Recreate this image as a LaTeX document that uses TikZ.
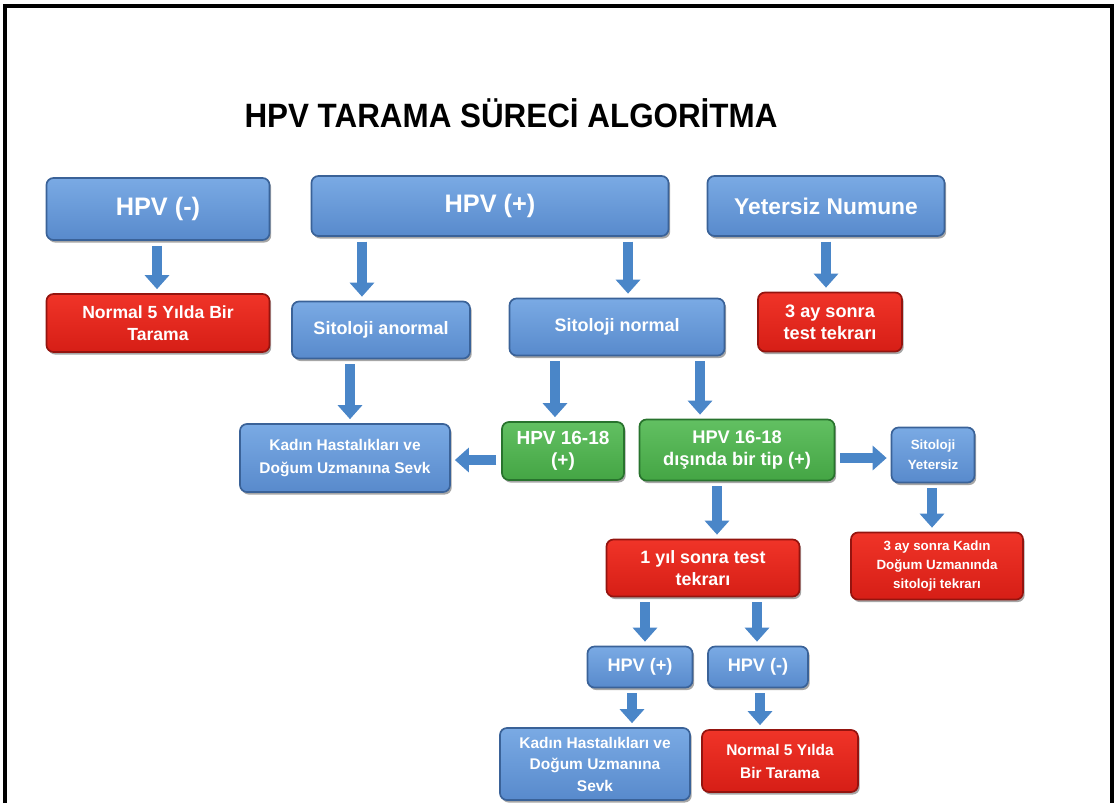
\documentclass[tikz,border=0pt]{standalone}
\usepackage{fontspec}
\setsansfont{Liberation Sans}
\newfontfamily\titlefont[FakeStretch=0.93]{Liberation Sans}
\usepackage{tikz}
\usetikzlibrary{arrows.meta,shadows}

\definecolor{bluetop}{RGB}{122,170,228}
\definecolor{bluebot}{RGB}{88,138,204}
\definecolor{blueedge}{RGB}{58,98,152}
\definecolor{redtop}{RGB}{240,52,40}
\definecolor{redbot}{RGB}{214,30,22}
\definecolor{rededge}{RGB}{148,20,15}
\definecolor{greentop}{RGB}{98,192,98}
\definecolor{greenbot}{RGB}{68,165,68}
\definecolor{greenedge}{RGB}{40,115,45}
\definecolor{arrowblue}{RGB}{74,134,200}

\tikzset{
	box/.style={rounded corners=5pt, line width=1.2pt, inner sep=1pt, align=center, text=white,
		drop shadow={shadow xshift=1.2pt, shadow yshift=-1.8pt, fill=black, opacity=0.35}},
	bluebox/.style={box, top color=bluetop, bottom color=bluebot, draw=blueedge},
	redbox/.style={box, top color=redtop, bottom color=redbot, draw=rededge},
	greenbox/.style={box, top color=greentop, bottom color=greenbot, draw=greenedge},
	txt/.style 2 args={font=\sffamily\bfseries\fontsize{#1}{#2}\selectfont},
	arr/.style={line width=0.24cm, draw=arrowblue, -{Triangle[width=0.6cm,length=0.35cm]},
		shorten <=0.12cm, shorten >=0.1cm}
}

\begin{document}
\begin{tikzpicture}[x=0.025cm, y=-0.025cm]
		
		\useasboundingbox (0,0) rectangle (1115,803);
		\draw[line width=2.2pt] (5,803) -- (5,6) -- (1112,6) -- (1112,803);
		
		\node[font=\titlefont\bfseries\fontsize{24}{28}\selectfont] (title) at (511,113) {HPV TARAMA SÜRECİ ALGORİTMA};
		
		\node[bluebox, minimum width=5.575cm, minimum height=1.55cm, txt={18}{21}] (hpvneg) at (158,209) {HPV (-)};
		\node[bluebox, minimum width=8.925cm, minimum height=1.5cm, txt={18}{21}] (hpvpos) at (490,206) {HPV (+)};
		\node[bluebox, minimum width=5.925cm, minimum height=1.5cm, txt={16.2}{19}] (yetersiz) at (826,206) {Yetersiz Numune};
		
		\node[redbox, minimum width=5.575cm, minimum height=1.45cm, txt={12.5}{15.6}] (normal) at (158,323) {Normal 5 Yılda Bir\\Tarama};
		\node[bluebox, minimum width=4.45cm, minimum height=1.425cm, txt={12.8}{15}] (sitanormal) at (381,330) {Sitoloji anormal};
		\node[bluebox, minimum width=5.375cm, minimum height=1.425cm, txt={12.8}{15}] (sitnormal) at (617,327) {Sitoloji normal};
		\node[redbox, minimum width=3.6cm, minimum height=1.475cm, txt={12.9}{16}] (ucay) at (830,322) {3 ay sonra\\test tekrarı};
		
		\node[bluebox, minimum width=5.25cm, minimum height=1.7cm, txt={11}{16}] (sevk) at (345,458) {Kadın Hastalıkları ve\\Doğum Uzmanına Sevk};
		\node[greenbox, minimum width=3.05cm, minimum height=1.45cm, txt={13.5}{16}] (tip1618) at (563,451) {HPV 16-18\\(+)};
		\node[greenbox, minimum width=4.875cm, minimum height=1.525cm, txt={13}{16}] (digertip) at (737,450) {HPV 16-18\\dışında bir tip (+)};
		\node[bluebox, minimum width=2.075cm, minimum height=1.375cm, txt={9.5}{14}] (sityetersiz) at (933,455) {Sitoloji\\Yetersiz};
		
		\node[redbox, minimum width=4.825cm, minimum height=1.425cm, txt={12.7}{15.6}] (biryil) at (703,568) {1 yıl sonra test\\tekrarı};
		\node[redbox, minimum width=4.3cm, minimum height=1.675cm, txt={9.5}{13.2}] (kadintekrar) at (937,566) {3 ay sonra Kadın\\Doğum Uzmanında\\sitoloji tekrarı};
		
		\node[bluebox, minimum width=2.625cm, minimum height=1.025cm, txt={12.9}{15}] (hpvpos2) at (640,667) {HPV (+)};
		\node[bluebox, minimum width=2.5cm, minimum height=1.025cm, txt={12.9}{15}] (hpvneg2) at (758,667) {HPV (-)};
		
		\node[bluebox, minimum width=4.75cm, minimum height=1.8cm, txt={11}{15.3}] (sevk2) at (595,764) {Kadın Hastalıkları ve\\Doğum Uzmanına\\Sevk};
		\node[redbox, minimum width=3.9cm, minimum height=1.55cm, txt={11}{16.4}] (normal2) at (780,761) {Normal 5 Yılda\\Bir Tarama};
		
		\coordinate (o1) at ([xshift=-0.025cm]hpvneg.south);
		\coordinate (o2) at ([xshift=-3.2cm]hpvpos.south);
		\coordinate (o3) at ([xshift=3.45cm]hpvpos.south);
		\coordinate (o4) at (yetersiz.south);
		\draw[arr] (o1) -- (normal.north -| o1);
		\draw[arr] (o2) -- (sitanormal.north -| o2);
		\draw[arr] (o3) -- (sitnormal.north -| o3);
		\draw[arr] (o4) -- (ucay.north -| o4);
		
		\coordinate (o5) at ([xshift=-0.775cm]sitanormal.south);
		\coordinate (o6) at ([xshift=-1.55cm]sitnormal.south);
		\coordinate (o7) at ([xshift=2.075cm]sitnormal.south);
		\draw[arr] (o5) -- (sevk.north -| o5);
		\draw[arr] (o6) -- (tip1618.north -| o6);
		\draw[arr] (o7) -- (digertip.north -| o7);
		
		\coordinate (tipyan) at ([yshift=-0.225cm]tip1618.west);
		\draw[arr] (tipyan) -- (sevk.east |- tipyan);
		\coordinate (digeryan) at ([yshift=-0.2cm]digertip.east);
		\draw[arr] (digeryan) -- (sityetersiz.west |- digeryan);
		
		\coordinate (o8) at ([xshift=-0.5cm]digertip.south);
		\coordinate (o9) at ([xshift=-0.025cm]sityetersiz.south);
		\draw[arr] (o8) -- (biryil.north -| o8);
		\draw[arr] (o9) -- (kadintekrar.north -| o9);
		
		\coordinate (o10) at ([xshift=-1.45cm]biryil.south);
		\coordinate (o11) at ([xshift=1.35cm]biryil.south);
		\draw[arr] (o10) -- (hpvpos2.north -| o10);
		\draw[arr] (o11) -- (hpvneg2.north -| o11);
		
		\coordinate (o12) at ([xshift=-0.2cm]hpvpos2.south);
		\coordinate (o13) at ([xshift=0.05cm]hpvneg2.south);
		\draw[arr] (o12) -- (sevk2.north -| o12);
		\draw[arr] (o13) -- (normal2.north -| o13);
		
	\end{tikzpicture}
\end{document}
